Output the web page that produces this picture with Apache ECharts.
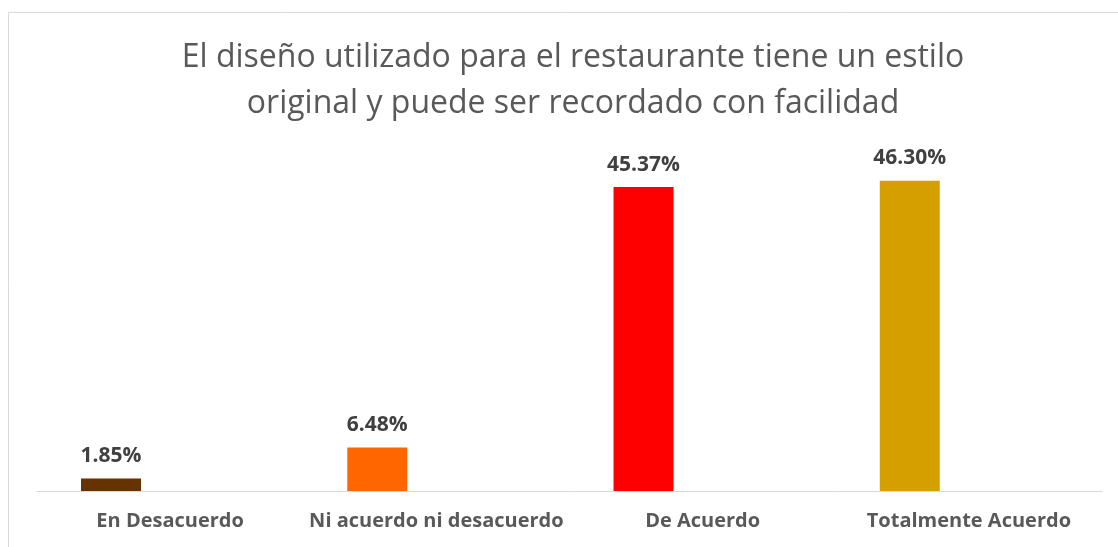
<!DOCTYPE html>
<html>
<head>
<meta charset="utf-8">
<script src="https://cdn.jsdelivr.net/npm/echarts@6/dist/echarts.min.js"></script>
<style>
  html, body { margin: 0; padding: 0; background: #fff; }
  #chart { width: 1118px; height: 547px; }
</style>
</head>
<body>
<div id="chart"></div>
<script>
// categorias y porcentajes
var categorias = ['En Desacuerdo', 'Ni acuerdo ni desacuerdo', 'De Acuerdo', 'Totalmente Acuerdo'];
var porcentajes = [1.85, 6.48, 45.37, 46.30];
var colores = ['#663300', '#FF6600', '#FF0000', '#D59F00'];
var titulo = 'El diseño utilizado para el restaurante tiene un estilo\noriginal y puede ser recordado con facilidad';

var chart = echarts.init(document.getElementById('chart'));

var option = {
    animation: false,
    graphic: [
        {
            type: 'rect',
            shape: { x: 8.5, y: 12.5, width: 1200, height: 600 },
            style: { fill: 'none', stroke: '#d9d9d9', lineWidth: 1 },
            silent: true
        }
    ],
    title: {
        text: titulo,
        left: 568,
        textAlign: 'center',
        top: 30,
        textStyle: {
            fontFamily: 'Open Sans',
            fontSize: 32,
            fontWeight: 'normal',
            color: '#595959',
            lineHeight: 46
        }
    },
    grid: {
        left: 37,
        right: 16,
        top: 156,
        bottom: 56
    },
    xAxis: {
        type: 'category',
        data: categorias,
        axisLine: { lineStyle: { color: '#d9d9d9', width: 1 } },
        axisTick: { show: false },
        axisLabel: {
            margin: 20,
            interval: 0,
            fontFamily: 'Open Sans',
            fontWeight: 'bold',
            fontSize: 20,
            color: '#595959'
        }
    },
    yAxis: {
        type: 'value',
        min: 0,
        max: 50,
        show: false,
        splitLine: { show: false }
    },
    series: [
        {
            type: 'bar',
            barWidth: 60,
            barGap: '97%',
            data: porcentajes.map(function (v, i) {
                return { value: v, itemStyle: { color: colores[i] } };
            }),
            label: {
                show: true,
                position: 'top',
                distance: 12,
                fontFamily: 'Open Sans',
                fontWeight: 'bold',
                fontSize: 21,
                color: '#404040',
                formatter: function (p) { return p.value.toFixed(2) + '%'; }
            }
        },
        {
            // serie vacia que reserva el hueco a la derecha de cada barra
            type: 'bar',
            barWidth: 60,
            data: [],
            silent: true
        }
    ]
};

chart.setOption(option);
</script>
</body>
</html>
